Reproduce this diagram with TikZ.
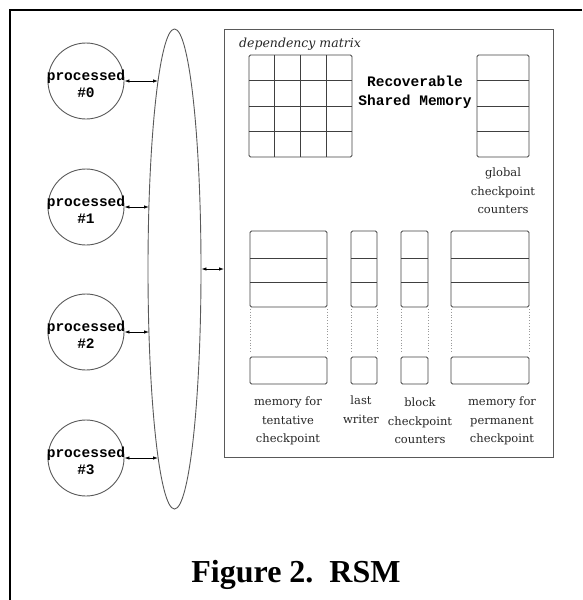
\documentclass[tikz,border=0pt]{standalone}
\usepackage{fontspec}
\setmainfont{Liberation Serif}
\newfontfamily\monob{Liberation Mono}
\newfontfamily\lblfont{DejaVu Serif}
\usetikzlibrary{shapes.geometric,arrows.meta}

\tikzset{
  frameline/.style={draw=black, line width=1.5pt},
  thin gray/.style={draw=black!65, line width=0.9pt},
  proc/.style={thin gray, circle, minimum size=76pt, inner sep=0pt},
  proctext/.style={align=center, inner sep=0pt,
    font={\monob\bfseries\fontsize{14.5}{17}\selectfont}},
  lbl/.style={align=center, inner sep=0pt, text=black!85,
    font={\lblfont\fontsize{11.5}{18.5}\selectfont}},
  link/.style={black, line width=0.8pt,
    {Latex[length=5pt,width=3.5pt]}-{Latex[length=5pt,width=3.5pt]}},
  cell/.style={draw=black!75, line width=0.9pt},
  gap/.style={draw=black!40, line width=0.8pt, dotted},
}

\begin{document}
\begin{tikzpicture}[x=1pt,y=-1pt]
\useasboundingbox (0,0) rectangle (582,600);

% page frame (top and left edges)
\draw[frameline] (582,10) -- (10,10) -- (10,600);

% processes
\foreach \i/\y in {0/81,1/207,2/332,3/458}{
  \node[proc] (p\i) at (86,\y) {};
  \node[proctext] (t\i) at (86,\y+3) {processed\\\#\i};
}

% interconnect
\node[thin gray, ellipse, minimum width=53pt, minimum height=480pt, inner sep=0pt] (bus) at (174.5,269) {};

% border points of the interconnect at the process levels
\coordinate (e0) at (158,81);
\coordinate (e1) at (149,207);
\coordinate (e2) at (149,332);
\coordinate (e3) at (158,458);
\foreach \i in {0,...,3}{
  \draw[link] (p\i.east) -- (e\i);
}

% recoverable shared memory
\node[thin gray, minimum width=329pt, minimum height=428pt, anchor=north west, inner sep=0pt] (rsm) at (224,29) {};
\draw[link] (bus.east) -- (bus.east -| rsm.west);

\node[proctext, font={\monob\bfseries\fontsize{14.5}{19}\selectfont}] (title) at (415,92) {Recoverable\\Shared Memory};

% dependency matrix
\node[lbl, font={\lblfont\itshape\fontsize{12.5}{14}\selectfont}] (deplbl) at (300,44) {dependency matrix};
\draw[cell, rounded corners=1.5pt] (249,55) rectangle (352,157);
\foreach \k in {1,2,3}{
  \draw[cell] ({249+\k*25.75},55) -- ({249+\k*25.75},157);
  \draw[cell] (249,{55+\k*25.5}) -- (352,{55+\k*25.5});
}

% global checkpoint counters
\draw[cell, rounded corners=1.5pt] (477,55) rectangle (529,157);
\foreach \k in {1,2,3}{
  \draw[cell] (477,{55+\k*25.5}) -- (529,{55+\k*25.5});
}
\node[lbl] (gcc) at (503,191) {global\\checkpoint\\counters};

% per-block arrays
\foreach \a/\b in {250/327, 351/377, 401/428, 451/529}{
  \draw[cell, rounded corners=1.5pt] (\a,231) rectangle (\b,307);
  \draw[cell] (\a,258) -- (\b,258);
  \draw[cell] (\a,282) -- (\b,282);
  \draw[gap] (\a,309) -- (\a,353);
  \draw[gap] (\b,309) -- (\b,353);
  \draw[cell, rounded corners=1.5pt] (\a,357) rectangle (\b,384);
}
\node[lbl] (tent) at (288,421) {memory for\\tentative\\checkpoint};
\node[lbl, anchor=north] (lw) at (361,396) {last\\writer};
\node[lbl] (bcc) at (420,421) {block\\checkpoint\\counters};
\node[lbl] (perm) at (502,421) {memory for\\permanent\\checkpoint};

% caption
\node[anchor=base, inner sep=0pt, font={\bfseries\fontsize{32}{38}\selectfont}] (cap) at (296,582) {Figure 2.\ \ RSM};
\end{tikzpicture}
\end{document}
